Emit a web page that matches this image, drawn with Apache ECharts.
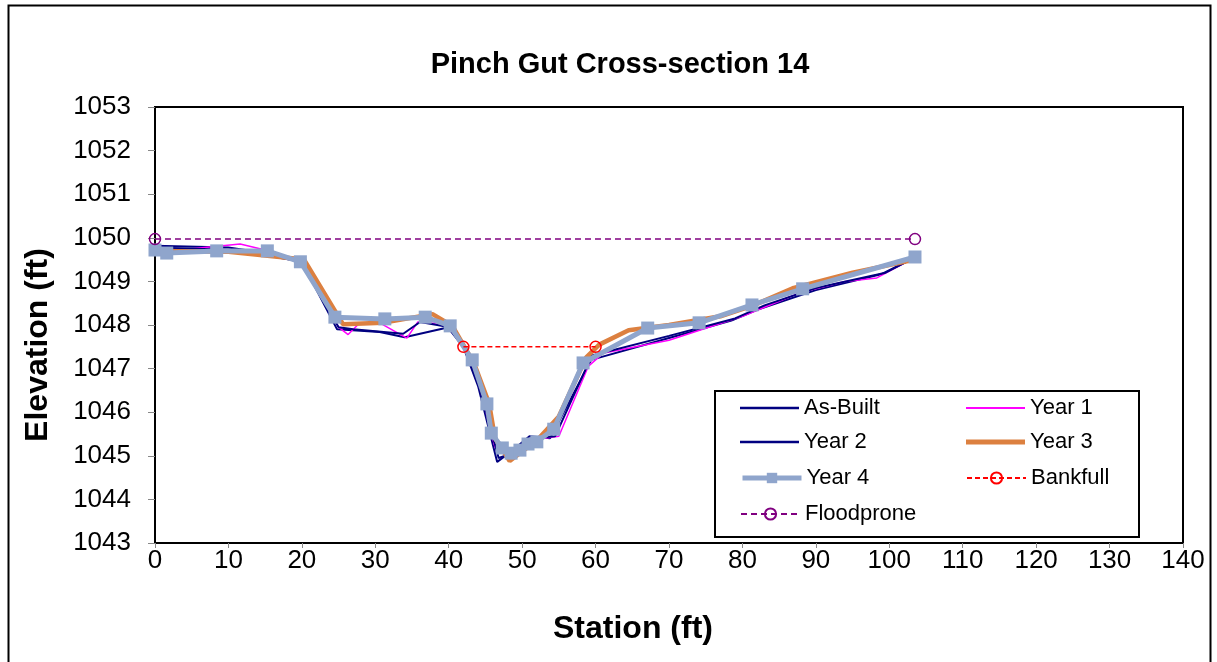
<!DOCTYPE html>
<html>
<head>
<meta charset="utf-8">
<script src="https://cdn.jsdelivr.net/npm/echarts@6/dist/echarts.min.js"></script>
<style>html,body{margin:0;padding:0;background:#fff}#c{width:1217px;height:662px}</style>
</head>
<body>
<div id="c"></div>
<script>
// ---- data ----
const asBuiltX = [0, 10, 15, 20, 24.8, 30.6, 34, 40, 42, 44, 46.6, 48.5, 51, 53.8, 59.4, 70, 78.5, 82, 90, 99, 103.5];
const asBuiltY = [1049.82, 1049.78, 1049.65, 1049.45, 1047.9, 1047.84, 1047.72, 1047.95, 1047.5, 1046.6, 1044.86, 1045.1, 1045.45, 1045.4, 1047.2, 1047.7, 1048.1, 1048.35, 1048.8, 1049.17, 1049.55];

const year1X = [0, 5, 11.6, 15, 20, 25, 26.3, 27.9, 30.6, 34.3, 35.8, 37.9, 40, 42, 44, 46.3, 47.5, 49.5, 51, 53, 55, 59, 61, 70, 80, 88, 94, 98.3, 103.5];
const year1Y = [1049.75, 1049.75, 1049.86, 1049.72, 1049.45, 1047.95, 1047.78, 1048.05, 1048.05, 1047.7, 1048.07, 1048.04, 1047.95, 1047.55, 1046.7, 1045.2, 1045.1, 1045.15, 1045.35, 1045.4, 1045.45, 1047.05, 1047.35, 1047.65, 1048.2, 1048.75, 1049.0, 1049.08, 1049.55];

const year2X = [0, 11, 20, 25, 27, 33.8, 36.1, 39.8, 42.2, 44.2, 46.8, 48.5, 51.5, 54.5, 59.5, 70, 79, 83, 90, 99.5, 103.5];
const year2Y = [1049.78, 1049.72, 1049.45, 1047.95, 1047.9, 1047.8, 1048.07, 1047.96, 1047.45, 1046.55, 1044.95, 1045.05, 1045.4, 1045.45, 1047.3, 1047.75, 1048.15, 1048.45, 1048.85, 1049.2, 1049.55];

const year3X = [0, 10, 20.3, 25.6, 31, 37.8, 40.5, 43.5, 45.5, 46.3, 48.3, 50, 52, 55, 58.7, 60.5, 64.5, 70, 77, 81.5, 87, 95, 103.5];
const year3Y = [1049.7, 1049.68, 1049.5, 1048.02, 1048.05, 1048.25, 1047.98, 1047.1, 1046.2, 1045.4, 1044.88, 1045.1, 1045.35, 1045.9, 1047.25, 1047.55, 1047.88, 1048.0, 1048.2, 1048.45, 1048.85, 1049.2, 1049.5];

const year4X = [0, 1.6, 8.4, 15.3, 19.8, 24.5, 31.3, 36.8, 40.2, 43.2, 45.2, 45.8, 47.3, 48.5, 49.7, 50.8, 52.0, 54.3, 58.3, 67.1, 74.1, 81.3, 88.2, 103.5];
const year4Y = [1049.72, 1049.65, 1049.7, 1049.7, 1049.45, 1048.18, 1048.14, 1048.18, 1047.98, 1047.2, 1046.19, 1045.52, 1045.18, 1045.06, 1045.13, 1045.27, 1045.32, 1045.61, 1047.13, 1047.93, 1048.05, 1048.46, 1048.83, 1049.56];

const bankfullX = [42.0, 60.0];
const bankfullY = [1047.5, 1047.5];

const floodX = [0, 103.5];
const floodY = [1049.97, 1049.97];

const xTicks = {min: 0, max: 140, interval: 10};
const yTicks = {min: 1043, max: 1053, interval: 1};

const pair = (xs, ys) => xs.map((x, i) => [x, ys[i]]);

const FONT = 'Liberation Sans, Arial, sans-serif';
const chart = echarts.init(document.getElementById('c'), null, {renderer: 'canvas'});

const C = {ab: '#000080', y1: '#FF00FF', y2: '#000080', y3: '#DC8040', y4: '#8FA5CC', bf: '#FF0000', fp: '#800080'};

function lg(name, l, rowY, extra) {
  return Object.assign({
    data: [name], left: l, top: rowY - 12, padding: 0,
    itemWidth: 59, itemHeight: 14, itemGap: 0, z: 60,
    textStyle: {fontFamily: FONT, fontSize: 22, color: '#000', padding: [0, 0, 0, 0]}
  }, extra || {});
}

chart.setOption({
  animation: false,
  backgroundColor: '#fff',
  title: {
    text: 'Pinch Gut Cross-section 14',
    left: 615, top: 45, textAlign: 'center',
    textStyle: {fontFamily: FONT, fontSize: 29, fontWeight: 'bold', color: '#000'}
  },
  graphic: [
    {type: 'rect', shape: {x: 8.5, y: 5.5, width: 1202, height: 660}, style: {fill: null, stroke: '#000', lineWidth: 2}, z: 100},
    {type: 'rect', shape: {x: 715, y: 391, width: 424, height: 146}, style: {fill: '#fff', stroke: '#000', lineWidth: 2}, z: 50}
  ],
  legend: [
    lg('As-Built', 740, 409, {data: [{name: 'As-Built', icon: 'rect'}], itemHeight: 2.5}),
    lg('Year 1', 966, 409, {data: [{name: 'Year 1', icon: 'rect'}], itemHeight: 2}),
    lg('Year 2', 740, 443, {data: [{name: 'Year 2', icon: 'rect'}], itemHeight: 2.5}),
    lg('Year 3', 966, 443, {data: [{name: 'Year 3', icon: 'rect'}], itemHeight: 5}),
    lg('Year 4', 740, 479, {lineStyle: {width: 5}, itemHeight: 13}),
    lg('Bankfull', 966, 479, {itemHeight: 14}),
    lg('Floodprone', 740, 515, {itemHeight: 14})
  ],
  grid: {left: 155, top: 107, right: 34, bottom: 119, show: true, borderColor: '#000', borderWidth: 2, backgroundColor: '#fff'},
  xAxis: {
    type: 'value', min: xTicks.min, max: xTicks.max, interval: xTicks.interval,
    name: 'Station (ft)', nameLocation: 'middle', nameGap: 70,
    nameTextStyle: {fontFamily: FONT, fontSize: 32, fontWeight: 'bold', color: '#000', padding: [0, 72, 0, 0]},
    axisLine: {show: true, onZero: false, lineStyle: {color: '#000', width: 2}},
    axisTick: {show: true, length: 5, lineStyle: {color: '#888'}},
    axisLabel: {fontFamily: FONT, fontSize: 26, color: '#000', margin: 5},
    splitLine: {show: false}
  },
  yAxis: {
    type: 'value', min: yTicks.min, max: yTicks.max, interval: yTicks.interval,
    name: 'Elevation (ft)', nameLocation: 'middle', nameGap: 101, nameRotate: 90,
    nameTextStyle: {fontFamily: FONT, fontSize: 32, fontWeight: 'bold', color: '#000', padding: [0, 40, 0, 0]},
    axisLine: {show: true, onZero: false, lineStyle: {color: '#000', width: 2}},
    axisTick: {show: true, length: 7, lineStyle: {color: '#888'}},
    axisLabel: {fontFamily: FONT, fontSize: 26, color: '#000', margin: 24, formatter: v => String(v)},
    splitLine: {show: false}
  },
  series: [
    {name: 'As-Built', type: 'line', data: pair(asBuiltX, asBuiltY), symbol: 'none',
     lineStyle: {color: C.ab, width: 2}, itemStyle: {color: C.ab}},
    {name: 'Year 1', type: 'line', data: pair(year1X, year1Y), symbol: 'none',
     lineStyle: {color: C.y1, width: 1.5}, itemStyle: {color: C.y1}},
    {name: 'Year 2', type: 'line', data: pair(year2X, year2Y), symbol: 'none',
     lineStyle: {color: C.y2, width: 2}, itemStyle: {color: C.y2}},
    {name: 'Year 3', type: 'line', data: pair(year3X, year3Y), symbol: 'none',
     lineStyle: {color: C.y3, width: 4.5}, itemStyle: {color: C.y3}},
    {name: 'Year 4', type: 'line', data: pair(year4X, year4Y), symbol: 'rect', symbolSize: 13,
     lineStyle: {color: C.y4, width: 5}, itemStyle: {color: C.y4}},
    {name: 'Bankfull', type: 'line', data: pair(bankfullX, bankfullY), symbol: 'circle', symbolSize: 11,
     lineStyle: {color: C.bf, width: 1.5, type: [5, 3]},
     itemStyle: {color: 'rgba(255,255,255,0)', borderColor: C.bf, borderWidth: 1.5}},
    {name: 'Floodprone', type: 'line', data: pair(floodX, floodY), symbol: 'circle', symbolSize: 11,
     lineStyle: {color: C.fp, width: 1.5, type: [6, 4]},
     itemStyle: {color: 'rgba(255,255,255,0)', borderColor: C.fp, borderWidth: 1.5}}
  ]
});
</script>
</body>
</html>
